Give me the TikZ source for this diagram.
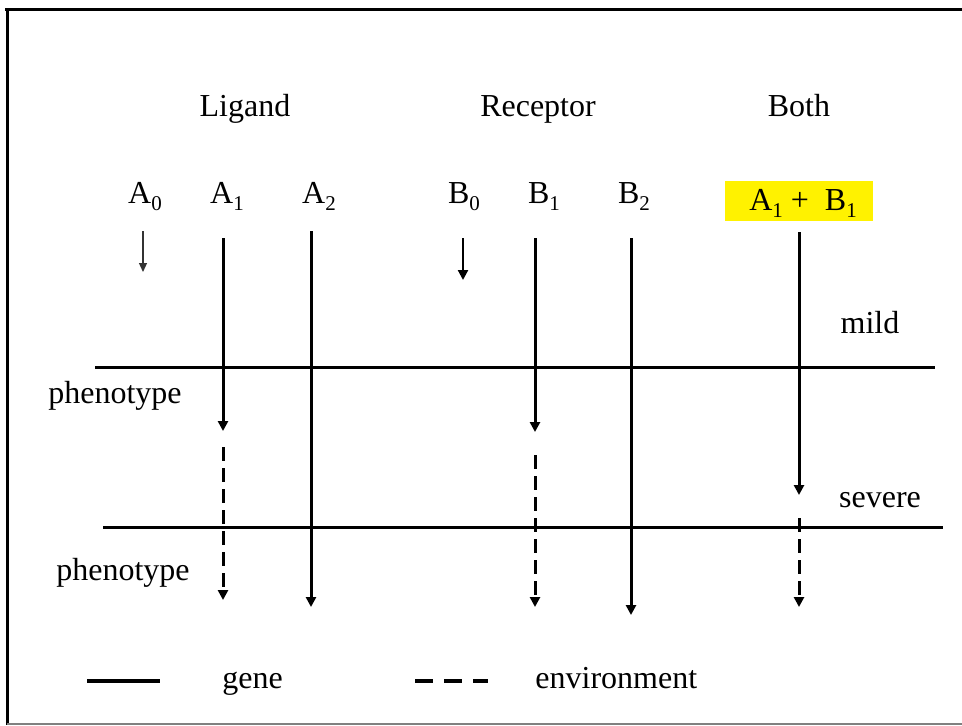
\documentclass[tikz,border=0pt]{standalone}
\usepackage{fontspec}
\setmainfont{Liberation Serif}
\usetikzlibrary{arrows.meta}
\newcommand{\lowsub}[1]{\raisebox{-3.5pt}{\fontsize{10.5}{12}\selectfont #1}}
\begin{document}
\begin{tikzpicture}[x=0.5pt,y=-0.5pt,
  lbl/.style={inner sep=0pt,anchor=base,font=\fontsize{16}{19}\selectfont},
  gene/.style={line width=1.5pt,-{Triangle[length=5pt,width=5pt]}},
  env/.style={line width=1.5pt,dash pattern=on 7pt off 3.5pt,-{Triangle[length=5pt,width=5pt]}},
  bar/.style={line width=1.5pt},
  frameline/.style={line width=1.5pt}]
\useasboundingbox (0,0) rectangle (962,725);
% frame
\draw[frameline] (5,9) -- (962,9);
\draw[frameline] (7,9) -- (7,725);
\draw[line width=1pt,gray] (7,723.5) -- (962,723.5);
% headings
\node[lbl] (lig) at (245,116) {Ligand};
\node[lbl] (rec) at (538,116) {Receptor};
\node[lbl] (both) at (799,116) {Both};
% allele labels
\node[lbl] (a0) at (145,203) {A\lowsub{0}};
\node[lbl] (a1) at (227,203) {A\lowsub{1}};
\node[lbl] (a2) at (319,203) {A\lowsub{2}};
\node[lbl] (b0) at (464,203) {B\lowsub{0}};
\node[lbl] (b1) at (544,203) {B\lowsub{1}};
\node[lbl] (b2) at (634,203) {B\lowsub{2}};
\node[fill=yellow,minimum width=74pt,minimum height=20pt,inner sep=0pt] (ab) at (799,201) {};
\node[lbl] (abt) at (803,210) {A\lowsub{1} +\ \ B\lowsub{1}};
% side labels
\node[lbl] (mild) at (870,333) {mild};
\node[lbl] (sev) at (880,507) {severe};
\node[lbl] (ph1) at (115,403) {phenotype};
\node[lbl] (ph2) at (123,580) {phenotype};
% phenotype bars
\coordinate (h1l) at (95,367); \coordinate (h1r) at (935,367);
\coordinate (h2l) at (103,527); \coordinate (h2r) at (943,527);
\draw[bar] (h1l) -- (h1r);
\draw[bar] (h2l) -- (h2r);
% arrow coordinates
\coordinate (a0s) at (143,231); \coordinate (a0e) at (143,272);
\coordinate (a1s) at (223,238); \coordinate (a1e) at (223,431);
\coordinate (a1ds) at (223,447); \coordinate (a1de) at (223,600);
\coordinate (a2s) at (311,231); \coordinate (a2e) at (311,607);
\coordinate (b0s) at (463,238); \coordinate (b0e) at (463,280);
\coordinate (b1s) at (535,238); \coordinate (b1e) at (535,432);
\coordinate (b1ds) at (535,455); \coordinate (b1de) at (535,607);
\coordinate (b2s) at (631,238); \coordinate (b2e) at (631,615);
\coordinate (cs) at (799,232); \coordinate (ce) at (799,495);
\coordinate (cds) at (799,518); \coordinate (cde) at (799,607);
% arrows
\draw[line width=0.6pt,black!80,-{Triangle[length=4.5pt,width=4pt]}] (a0s) -- (a0e);
\draw[line width=1.1pt,-{Triangle[length=5pt,width=5pt]}] (b0s) -- (b0e);
\draw[gene] (a1s) -- (a1e);
\draw[env] (a1ds) -- (a1de);
\draw[gene] (a2s) -- (a2e);
\draw[gene] (b1s) -- (b1e);
\draw[env] (b1ds) -- (b1de);
\draw[gene] (b2s) -- (b2e);
\draw[gene] (cs) -- (ce);
\draw[env] (cds) -- (cde);
% legend
\coordinate (lg1) at (87,681); \coordinate (lg2) at (160,681);
\coordinate (le1) at (415,681); \coordinate (le2) at (488,681);
\draw[line width=2pt] (lg1) -- (lg2);
\draw[line width=2pt,dash pattern=on 9pt off 5.5pt] (le1) -- (le2);
\node[lbl,anchor=base west] (gtxt) at (222,688) {gene};
\node[lbl,anchor=base west] (etxt) at (535,688) {environment};
\end{tikzpicture}
\end{document}
